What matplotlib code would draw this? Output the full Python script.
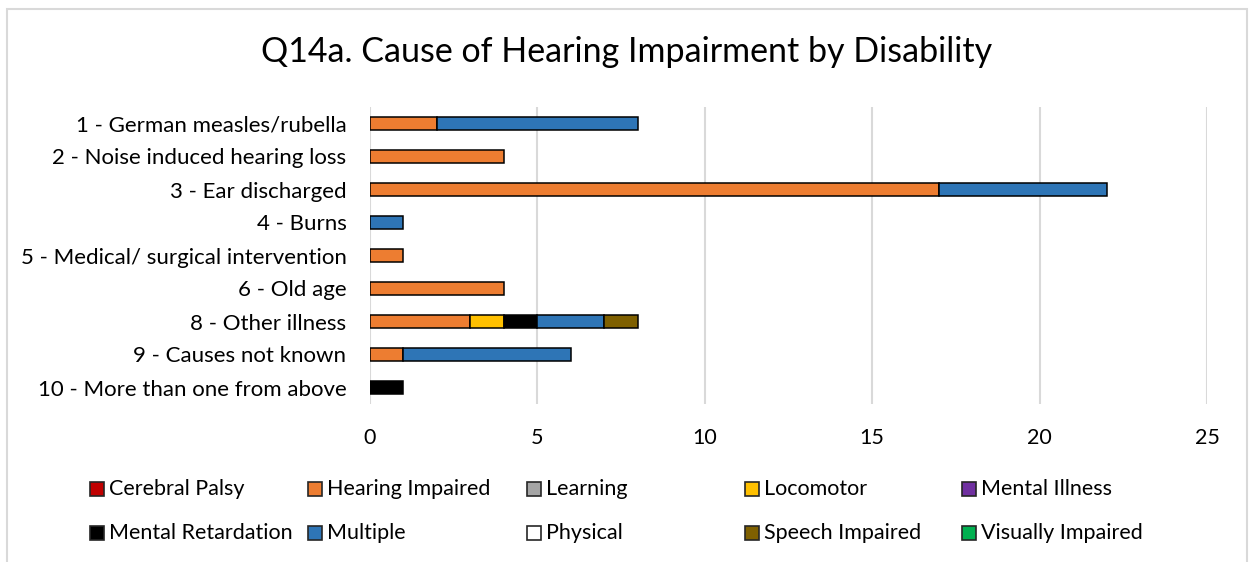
import numpy as np
import matplotlib.pyplot as plt
from matplotlib.patches import Rectangle

plt.rcParams["font.family"] = ["Lato", "DejaVu Sans"]

causes = [
    "1 - German measles/rubella",
    "2 - Noise induced hearing loss",
    "3 - Ear discharged",
    "4 - Burns",
    "5 - Medical/ surgical intervention",
    "6 - Old age",
    "8 - Other illness",
    "9 - Causes not known",
    "10 - More than one from above",
]

disabilities = [
    "Cerebral Palsy", "Hearing Impaired", "Learning", "Locomotor", "Mental Illness",
    "Mental Retardation", "Multiple", "Physical", "Speech Impaired", "Visually Impaired",
]
colors = [
    "#C00000", "#ED7D31", "#A5A5A5", "#FFC000", "#7030A0",
    "#000000", "#2E75B6", "#FFFFFF", "#7F6000", "#00B050",
]

# counts per cause (same order as causes)
cerebral_palsy = [0, 0, 0, 0, 0, 0, 0, 0, 0]
hearing_impaired = [2, 4, 17, 0, 1, 4, 3, 1, 0]
learning = [0, 0, 0, 0, 0, 0, 0, 0, 0]
locomotor = [0, 0, 0, 0, 0, 0, 1, 0, 0]
mental_illness = [0, 0, 0, 0, 0, 0, 0, 0, 0]
mental_retardation = [0, 0, 0, 0, 0, 0, 1, 0, 1]
multiple = [6, 0, 5, 1, 0, 0, 2, 5, 0]
physical = [0, 0, 0, 0, 0, 0, 0, 0, 0]
speech_impaired = [0, 0, 0, 0, 0, 0, 1, 0, 0]
visually_impaired = [0, 0, 0, 0, 0, 0, 0, 0, 0]

series = [
    cerebral_palsy, hearing_impaired, learning, locomotor, mental_illness,
    mental_retardation, multiple, physical, speech_impaired, visually_impaired,
]

W, H = 1249, 562
fig = plt.figure(figsize=(W / 100, H / 100), dpi=100)
# plot area: x 370..1207 px, y 107..404 px
ax = fig.add_axes([370 / W, 1 - 404 / H, (1207 - 370) / W, (404 - 107) / H])

# light chart frame like the Excel chart area
fig.add_artist(Rectangle((7 / W, -0.05), (1247 - 7) / W, 1 - 9 / H + 0.05,
                         transform=fig.transFigure, fill=False,
                         edgecolor="#d9d9d9", lw=1.5))

y = np.arange(len(causes))
left = np.zeros(len(causes))
for name, vals, col in zip(disabilities, series, colors):
    vals = np.array(vals, dtype=float)
    mask = vals > 0
    ax.barh(y[mask], vals[mask], left=left[mask], height=0.42, color=col,
            edgecolor="black", linewidth=1.1, zorder=3)
    left += vals

ax.set_xlim(0, 25)
ax.set_ylim(len(causes) - 0.5, -0.5)
ax.set_xticks(np.arange(0, 26, 5))
ax.set_yticks(y)
ax.set_yticklabels(causes, fontsize=16)
ax.tick_params(axis="x", labelsize=15.5, length=0, pad=17)
ax.tick_params(axis="y", length=0, pad=17)
ax.grid(axis="x", color="#d9d9d9", lw=1.5, zorder=0)
for s in ax.spines.values():
    s.set_visible(False)

fig.text(627 / W, 1 - 52 / H, "Q14a. Cause of Hearing Impairment by Disability",
         ha="center", va="center", fontsize=24.5)

# legend: Excel-style fixed columns
col_x = [97, 315, 534, 752, 969]
row_y = [489, 533]
for i, (name, col) in enumerate(zip(disabilities, colors)):
    px = col_x[i % 5]
    py = row_y[i // 5]
    fig.add_artist(Rectangle(((px - 7) / W, 1 - (py + 7) / H), 14 / W, 14 / H,
                             transform=fig.transFigure, facecolor=col,
                             edgecolor="#262626", lw=1.2))
    fig.text((px + 12) / W, 1 - py / H, name, ha="left", va="center",
             fontsize=15.5)

fig.savefig("out.png", dpi=100)
